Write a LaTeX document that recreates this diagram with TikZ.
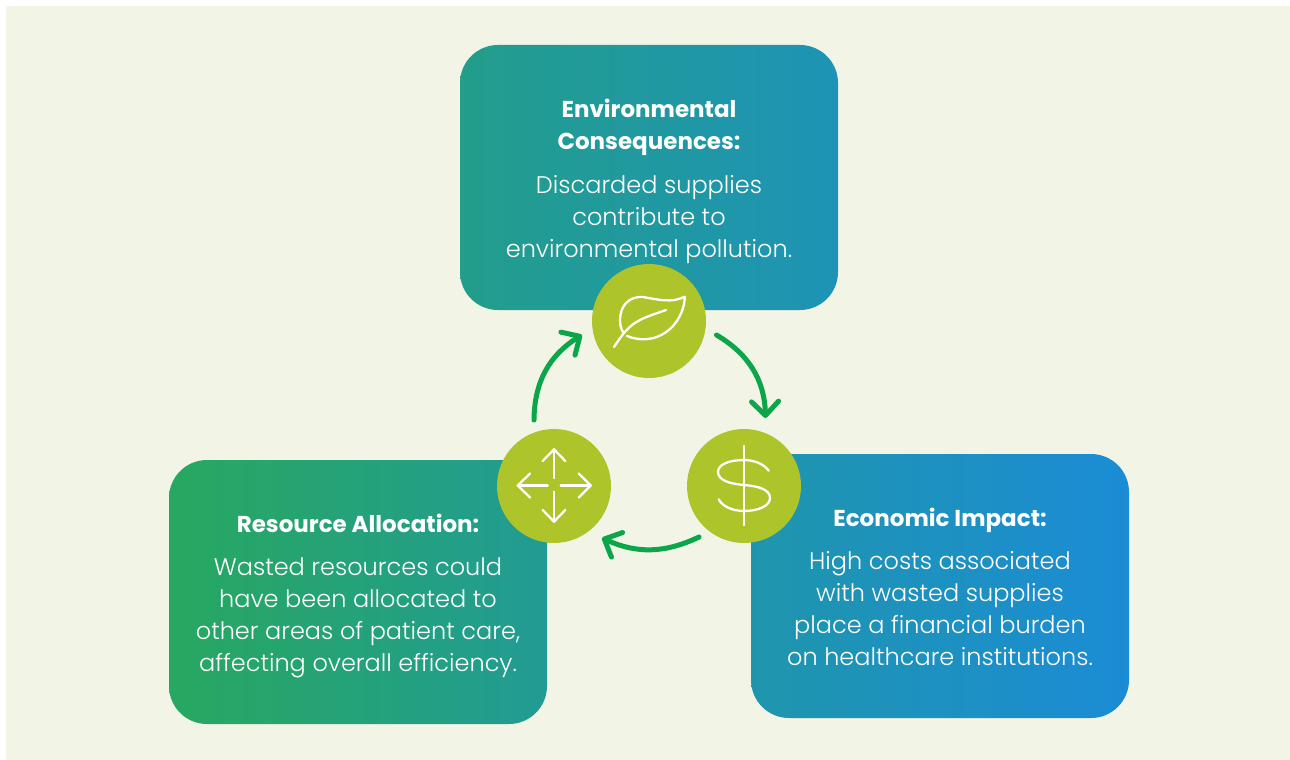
\documentclass[tikz,border=0pt]{standalone}
\usepackage{fontspec}
\setmainfont{Poppins}[UprightFont=* Light,BoldFont=* Bold]
\usetikzlibrary{arrows.meta}
\definecolor{bgc}{HTML}{F2F4E6}
\definecolor{gA}{HTML}{27A85F}
\definecolor{gB}{HTML}{1B8CD5}
\colorlet{c1l}{gB!0!gA}
\colorlet{c1r}{gB!45!gA}
\colorlet{c2l}{gB!37!gA}
\colorlet{c2r}{gB!74!gA}
\colorlet{c3l}{gB!66!gA}
\colorlet{c3r}{gB!100!gA}
\definecolor{lime}{HTML}{ADC42A}
\definecolor{arr}{HTML}{0CA64A}
\tikzset{
  cardbox/.style={rounded corners=38pt},
  titletext/.style={text=white,font=\fontsize{23}{32}\selectfont\bfseries,align=center,inner sep=0pt},
  bodytext/.style={text=white,font=\fontsize{24}{32}\selectfont,align=center,inner sep=0pt},
  disc/.style={circle,fill=lime,minimum size=114pt,inner sep=0pt},
  icon/.style={draw=white,line width=2.3pt,line cap=round,line join=round},
  cyc/.style={draw=arr,line width=5pt,line cap=round,-{Straight Barb[length=14pt,width=27pt,round,line width=5pt]}}
}
\begin{document}
\begin{tikzpicture}[x=1pt,y=-1pt]
\useasboundingbox (0,0) rectangle (1290,760);
\fill[white] (0,0) rectangle (1290,760);
\fill[bgc] (6,6) rectangle (1290,760);
% cards
\shade[cardbox,left color=c2l,right color=c2r] (460,45) rectangle (838,310);
\shade[cardbox,left color=c1l,right color=c1r] (169,460) rectangle (547,724);
\shade[cardbox,left color=c3l,right color=c3r] (751,454) rectangle (1129,718);
% text
\node[titletext] (t1) at (649,127) {Environmental\\Consequences:};
\node[bodytext] (b1) at (649,220) {Discarded supplies\\contribute to\\environmental pollution.};
\node[titletext] (t2) at (358,523) {Resource Allocation:};
\node[bodytext] (b2) at (358,618) {Wasted resources could\\have been allocated to\\other areas of patient care,\\affecting overall efficiency.};
\node[titletext] (t3) at (940,520) {Economic Impact:};
\node[bodytext] (b3) at (940,609) {High costs associated\\with wasted supplies\\place a financial burden\\on healthcare institutions.};
% discs
\node[disc] (leaf) at (649,321) {};
\node[disc] (dollar) at (744,486) {};
\node[disc] (move) at (554,486) {};
% connector ends
\coordinate (a1s) at (716.5,335);
\coordinate (a1e) at (765.5,418);
\coordinate (a2s) at (699,537);
\coordinate (a2e) at (602,538);
\coordinate (a3s) at (534,420);
\coordinate (a3e) at (582,335);
\draw[cyc] (a1s) to[bend left=29] (a1e);
\draw[cyc] (a2s) to[bend left=25] (a2e);
\draw[cyc] (a3s) to[bend left=29] (a3e);
% leaf icon
\draw[icon] (627,336) .. controls (645,343) and (660,338) .. (670,329) .. controls (680,320) and (685,306) .. (684.7,296.7) .. controls (672,303) and (660,300) .. (643,297) .. controls (628,296) and (620,307) .. (620,320) .. controls (620,325) and (621,329) .. (623,332);
\draw[icon] (614,347) .. controls (622,335) and (628,326) .. (640,320) .. controls (650,315) and (658,313) .. (666,310);
% dollar icon
\draw[icon] (744,446) -- (744,525);
\draw[icon] (768.7,470.7) .. controls (764,464) and (754,460) .. (744,460) .. controls (730,460) and (718,464) .. (718,472) .. controls (718,481) and (732,484) .. (744,485) .. controls (757,486) and (770,489) .. (770,498) .. controls (770,506) and (758,511) .. (744,511) .. controls (732,511) and (722,506) .. (718.7,499.3);
% move icon
\draw[icon] (554,478) -- (554,449.3);
\draw[icon] (542.7,461) -- (554,449.3) -- (565.3,461);
\draw[icon] (554,491.7) -- (554,521.7);
\draw[icon] (542.7,510) -- (554,521.7) -- (565.3,510);
\draw[icon] (547.7,485.5) -- (517.7,485.5);
\draw[icon] (530,473.5) -- (517.7,485.5) -- (530,497.5);
\draw[icon] (560.7,485.5) -- (590.7,485.5);
\draw[icon] (578.7,473.5) -- (590.7,485.5) -- (578.7,497.5);
\end{tikzpicture}
\end{document}
